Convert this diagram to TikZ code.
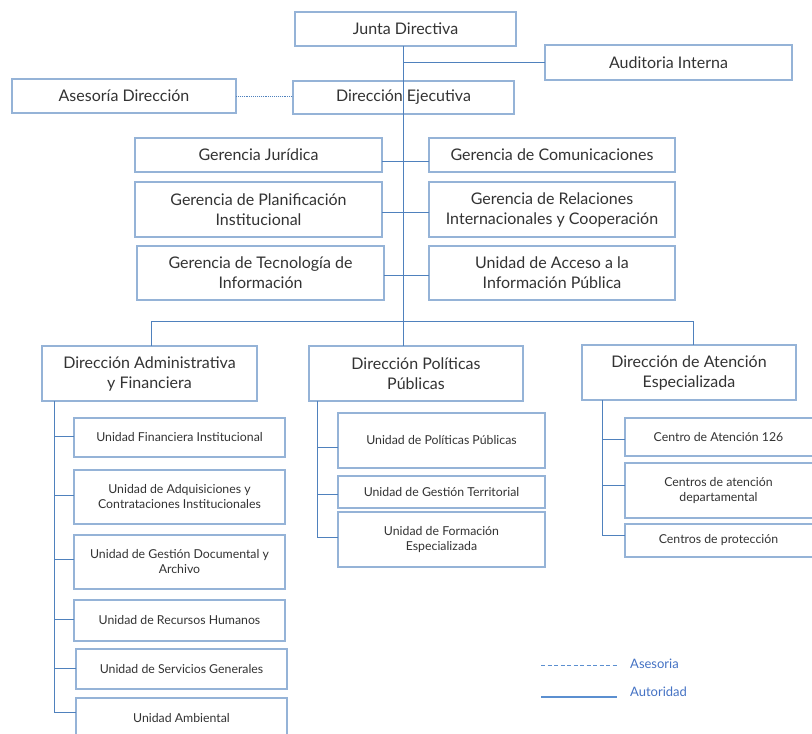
\documentclass[tikz,border=0pt]{standalone}
\usepackage{fontspec}
\setmainfont{Lato}
\definecolor{boxc}{HTML}{95B3D7}
\definecolor{connc}{HTML}{4F81BD}
\definecolor{legc}{HTML}{4472C4}
\definecolor{legl}{HTML}{5B8FD0}
\definecolor{txtc}{HTML}{333333}
\newcommand\obox[7]{\node[#1, minimum width={#4-#2}, minimum height={#5-#3}] (#6) at ({(#2+#4)/2},{(#3+#5)/2}) {#7};}
\begin{document}
\begin{tikzpicture}[x=1pt,y=-1pt,
  big/.style={draw=boxc, line width=1.3pt, fill=white, inner sep=0pt, outer sep=0pt, align=center, text=txtc, font=\fontsize{16}{20}\selectfont},
  small/.style={draw=boxc, line width=1.3pt, fill=white, inner sep=0pt, outer sep=0pt, align=center, text=txtc, font=\fontsize{12.3}{15}\selectfont},
  conn/.style={draw=connc, line width=0.9pt},
  adv/.style={draw=connc, line width=0.9pt, densely dotted}]
\clip (0,0) rectangle (812,734);
\fill[white] (0,0) rectangle (812,734);
% top level
\obox{big}{295}{12}{516}{46}{jd}{Junta Directiva}
\obox{big}{545}{45}{792}{80}{ai}{Auditoria Interna}
\obox{big}{12}{79}{236}{113}{ad}{Asesoría Dirección}
\obox{big}{293}{81}{514}{114}{de}{Dirección Ejecutiva}
% gerencias
\obox{big}{135}{138}{382}{172}{gj}{Gerencia Jurídica}
\obox{big}{429}{138}{675}{172}{gc}{Gerencia de Comunicaciones}
\obox{big}{135}{182}{382}{237}{gp}{Gerencia de Planificación\\Institucional}
\obox{big}{429}{182}{675}{237}{gr}{Gerencia de Relaciones\\Internacionales y Cooperación}
\obox{big}{137}{246}{384}{300}{gt}{Gerencia de Tecnología de\\Información}
\obox{big}{429}{246}{675}{300}{ua}{Unidad de Acceso a la\\Información Pública}
% direcciones
\obox{big}{42}{346}{257}{401}{da}{Dirección Administrativa\\y Financiera}
\obox{big}{309}{346}{523}{401}{dp}{Dirección Políticas\\Públicas}
\obox{big}{582}{345}{796}{400}{dae}{Dirección de Atención\\Especializada}
% admin units
\obox{small}{74}{418}{285}{457}{u1}{Unidad Financiera Institucional}
\obox{small}{74}{470}{285}{524}{u2}{Unidad de Adquisiciones y\\Contrataciones Institucionales}
\obox{small}{74}{535}{285}{589}{u3}{Unidad de Gestión Documental y\\Archivo}
\obox{small}{74}{600}{285}{641}{u4}{Unidad de Recursos Humanos}
\obox{small}{76}{649}{287}{689}{u5}{Unidad de Servicios Generales}
\obox{small}{76}{698}{287}{738}{u6}{Unidad Ambiental}
% politicas units
\obox{small}{338}{413}{545}{468}{p1}{Unidad de Políticas Públicas}
\obox{small}{338}{476}{545}{508}{p2}{Unidad de Gestión Territorial}
\obox{small}{338}{512}{545}{567}{p3}{Unidad de Formación\\Especializada}
% atencion units
\obox{small}{625}{418}{830}{456}{a1}{\hspace*{-18pt}Centro de Atención 126}
\obox{small}{625}{463}{830}{518}{a2}{\hspace*{-18pt}\begin{tabular}{@{}c@{}}Centros de atención\\departamental\end{tabular}}
\obox{small}{625}{524}{830}{557}{a3}{\hspace*{-18pt}Centros de protección}
% trunk
\coordinate (tr0) at (403,46);
\coordinate (tr1) at (403,346);
\draw[conn] (tr0) -- (tr1);
\draw[conn] (tr0 |- ai.west) -- (ai.west);
\draw[adv] (ad.east) -- (ad.east -| de.west);
\draw[conn] ([yshift=-6pt]gj.east) -- ([yshift=-6pt]gc.west);
\draw[conn] ([yshift=-2.5pt]gp.east) -- ([yshift=-2.5pt]gr.west);
\draw[conn] ([yshift=-2pt]gt.east) -- ([yshift=-2pt]ua.west);
% distribution line
\coordinate (hl0) at (151,321);
\coordinate (hl1) at (693,321);
\draw[conn] (hl0 |- da.north) -- (hl0) -- (hl1) -- (hl1 |- dae.north);
% admin column
\coordinate (ca) at (54,401);
\draw[conn] (ca) |- ([yshift=6pt]u6.west);
\draw[conn] ([yshift=1.5pt]u1.west -| ca) -- ([yshift=1.5pt]u1.west);
\draw[conn] ([yshift=2pt]u2.west -| ca) -- ([yshift=2pt]u2.west);
\draw[conn] ([yshift=3pt]u3.west -| ca) -- ([yshift=3pt]u3.west);
\draw[conn] ([yshift=1.5pt]u4.west -| ca) -- ([yshift=1.5pt]u4.west);
\draw[conn] ([yshift=1pt]u5.west -| ca) -- ([yshift=1pt]u5.west);
% politicas column
\coordinate (cp) at (317,401);
\draw[conn] (cp) |- ([yshift=2.5pt]p3.west);
\draw[conn] ([yshift=-6.5pt]p1.west -| cp) -- ([yshift=-6.5pt]p1.west);
\draw[conn] ([yshift=-2pt]p2.west -| cp) -- ([yshift=-2pt]p2.west);
% atencion column
\coordinate (cat) at (602,400);
\draw[conn] (cat) |- ([yshift=5.5pt]a3.west);
\draw[conn] ([yshift=-2pt]a1.west -| cat) -- ([yshift=-2pt]a1.west);
\draw[conn] ([yshift=5.5pt]a2.west -| cat) -- ([yshift=5.5pt]a2.west);
% legend
\coordinate (la0) at (541,665);
\coordinate (la1) at (617,665);
\coordinate (lb0) at (541,697);
\coordinate (lb1) at (617,697);
\draw[draw=legl, line width=1pt, dash pattern=on 4pt off 2.5pt] (la0) -- (la1);
\draw[draw=legl, line width=1.4pt] (lb0) -- (lb1);
\node[anchor=west, text=legc, font=\fontsize{13}{15}\selectfont, inner sep=0pt] (lta) at (630,664) {Asesoria};
\node[anchor=west, text=legc, font=\fontsize{13}{15}\selectfont, inner sep=0pt] (ltb) at (630,692) {Autoridad};
\end{tikzpicture}
\end{document}
